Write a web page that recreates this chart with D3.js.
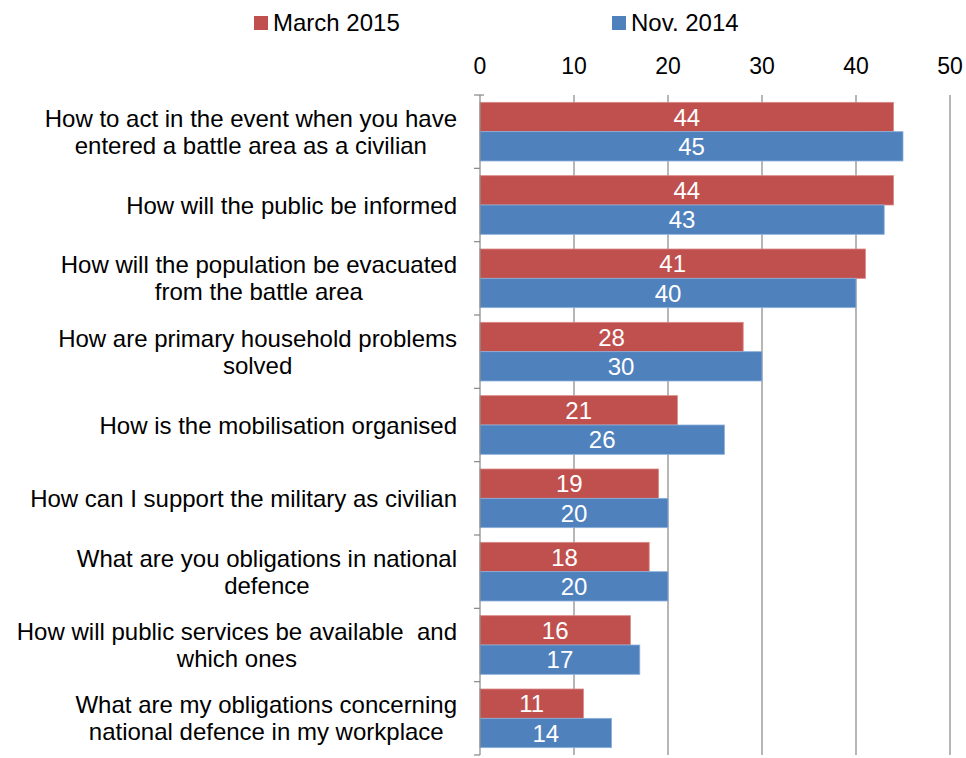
<!DOCTYPE html>
<html>
<head>
<meta charset="utf-8">
<script src="https://cdn.jsdelivr.net/npm/d3@7"></script>
<style>
  html, body { margin: 0; padding: 0; background: #fff; }
  svg { display: block; font-family: "Liberation Sans", Arial, sans-serif; }
  text { white-space: pre; }
</style>
</head>
<body>
<svg id="chart" width="966" height="758"></svg>
<script>
// Topics people want information on (each line is a wrapped label row)
const categories = [
  ["How to act in the event when you have", "entered a battle area as a civilian"],
  ["How will the public be informed"],
  ["How will the population be evacuated", "from the battle area"],
  ["How are primary household problems", "solved"],
  ["How is the mobilisation organised"],
  ["How can I support the military as civilian"],
  ["What are you obligations in national", "defence"],
  ["How will public services be available  and", "which ones"],
  ["What are my obligations concerning", "national defence in my workplace"]
];
const seriesNames = ["March 2015", "Nov. 2014"];
const march2015 = [44, 44, 41, 28, 21, 19, 18, 16, 11];
const nov2014   = [45, 43, 40, 30, 26, 20, 20, 17, 14];
const xTicks = [0, 10, 20, 30, 40, 50];
const colors = ["#C0504D", "#4F81BD"];

const svg = d3.select("#chart");
const plot = { left: 480, right: 950, top: 95, bottom: 755 };

const x = d3.scaleLinear().domain([0, 50]).range([plot.left, plot.right]);
const y = d3.scaleBand().domain(d3.range(categories.length)).range([plot.top, plot.bottom]);
const ySub = d3.scaleBand().domain(seriesNames).range([0, y.bandwidth()]).paddingOuter(0.25);

const rows = categories.map((c, i) => ({ idx: i, values: [march2015[i], nov2014[i]] }));

// vertical gridlines
svg.append("g").selectAll("line").data(xTicks.slice(1)).join("line")
  .attr("x1", d => x(d)).attr("x2", d => x(d))
  .attr("y1", plot.top).attr("y2", plot.bottom)
  .attr("stroke", "#868686").attr("stroke-width", 1.2);

// top axis tick labels
svg.append("g").selectAll("text").data(xTicks).join("text")
  .attr("x", d => x(d)).attr("y", 74)
  .attr("text-anchor", "middle")
  .attr("font-size", 23).attr("fill", "#000")
  .text(d => d);

// bars
const groups = svg.append("g").selectAll("g").data(rows).join("g")
  .attr("transform", d => `translate(0,${y(d.idx)})`);

groups.selectAll("rect").data(d => d.values.map((v, k) => ({ v, k }))).join("rect")
  .attr("x", x(0))
  .attr("y", d => ySub(seriesNames[d.k]))
  .attr("width", d => x(d.v) - x(0))
  .attr("height", ySub.bandwidth())
  .attr("fill", d => colors[d.k])
  .attr("stroke", d => d.k === 0 ? "#d98a88" : "#8eb0da")
  .attr("stroke-width", 0.8);

groups.selectAll("text").data(d => d.values.map((v, k) => ({ v, k }))).join("text")
  .attr("x", d => (x(d.v) + x(0)) / 2)
  .attr("y", d => ySub(seriesNames[d.k]) + ySub.bandwidth() / 2)
  .attr("dy", "0.36em")
  .attr("text-anchor", "middle")
  .attr("font-size", 24).attr("fill", "#fff")
  .text(d => d.v);

// left axis line with ticks at category boundaries
svg.append("line")
  .attr("x1", x(0)).attr("x2", x(0))
  .attr("y1", plot.top).attr("y2", plot.bottom)
  .attr("stroke", "#868686").attr("stroke-width", 1.2);
svg.append("g").selectAll("line").data(d3.range(categories.length + 1)).join("line")
  .attr("x1", x(0) - 6).attr("x2", x(0))
  .attr("y1", i => plot.top + i * y.step()).attr("y2", i => plot.top + i * y.step())
  .attr("stroke", "#868686").attr("stroke-width", 1.2);
svg.append("line")
  .attr("x1", x(0)).attr("x2", x(0) + 4)
  .attr("y1", plot.top).attr("y2", plot.top)
  .attr("stroke", "#868686").attr("stroke-width", 1.2);

// category labels: centred lines, block right-aligned to the axis
const labelRight = 457;
const lineH = 27;
const labels = svg.append("g").selectAll("g").data(categories).join("g");
labels.each(function(lines, i) {
  const g = d3.select(this);
  const texts = g.selectAll("text").data(lines).join("text")
    .attr("font-size", 24).attr("fill", "#000")
    .attr("text-anchor", "middle")
    .text(d => d);
  let maxW = 0;
  texts.each(function() { maxW = Math.max(maxW, this.getComputedTextLength()); });
  const cx = labelRight - maxW / 2;
  const cy = y(i) + y.bandwidth() / 2;
  const n = lines.length;
  texts.attr("x", cx)
    .attr("y", (d, k) => cy + (k - (n - 1) / 2) * lineH)
    .attr("dy", "0.36em");
});

// legend
const legendPos = [254, 612];
const legend = svg.append("g").selectAll("g").data(seriesNames).join("g")
  .attr("transform", (d, k) => `translate(${legendPos[k]},0)`);
legend.append("rect")
  .attr("x", 0).attr("y", 16).attr("width", 14).attr("height", 14)
  .attr("fill", (d, k) => colors[k]);
legend.append("text")
  .attr("x", 19).attr("y", 31)
  .attr("font-size", 24).attr("fill", "#000")
  .text(d => d);
</script>
</body>
</html>
